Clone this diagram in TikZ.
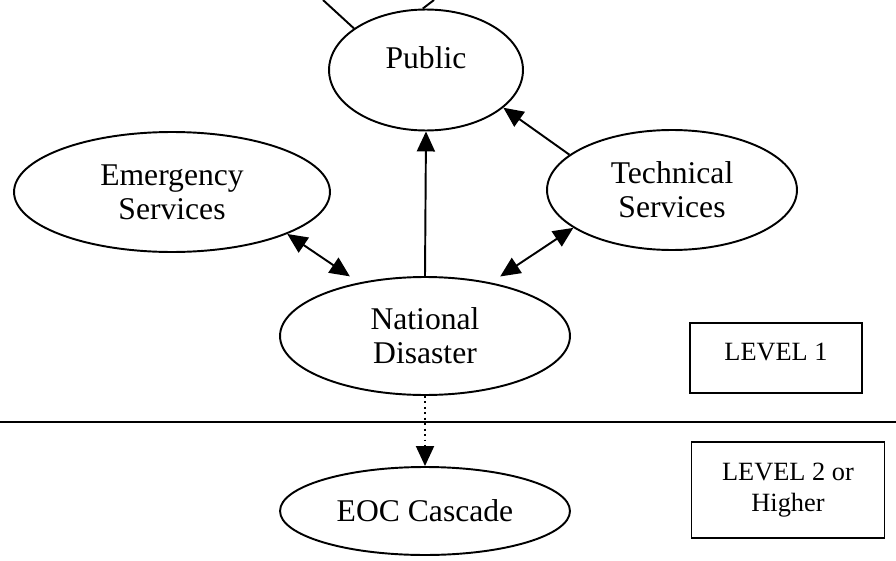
\documentclass[tikz,border=0pt]{standalone}
\usepackage{fontspec}
\setmainfont{Liberation Serif}
\usetikzlibrary{shapes.geometric}
\usetikzlibrary{arrows.meta}
\tikzset{
	bubble/.style={draw, ellipse, line width=1.1pt, inner sep=0pt, align=center,
		font=\fontsize{18}{19.5}\selectfont},
	levelbox/.style={draw, line width=1.1pt, inner sep=0pt, align=center,
		font=\fontsize{15}{18}\selectfont},
	link/.style={line width=1.1pt, -{Triangle[length=0.4cm, width=0.36cm]}},
	twolink/.style={line width=1.1pt, {Triangle[length=0.4cm, width=0.36cm]}-{Triangle[length=0.4cm, width=0.36cm]}}
}

\begin{document}
\begin{tikzpicture}[x=0.02cm, y=-0.02cm]
	% 896 x 561, one unit = one pixel
	\useasboundingbox (0, 0) rectangle (896, 561);
	% level 1
	\node[bubble, minimum width=3.88cm, minimum height=2.42cm] (pub) at (426, 70) {\raisebox{0.5cm}{Public}};
	\node[bubble, minimum width=6.32cm, minimum height=2.4cm] (es) at (172, 192) {Emergency\\Services};
	\node[bubble, minimum width=5cm, minimum height=2.4cm] (ts) at (672, 190) {Technical\\Services};
	\node[bubble, minimum width=5.8cm, minimum height=2.36cm] (nd) at (425, 336) {National\\Disaster};
	\node[levelbox, minimum width=3.44cm, minimum height=1.4cm] (lv1) at (776, 358) {\raisebox{0.24cm}{LEVEL 1}};
	% level 2
	\node[bubble, minimum width=5.8cm, minimum height=1.76cm] (eoc) at (425, 511) {EOC Cascade};
	\node[levelbox, minimum width=3.86cm, minimum height=1.92cm] (lv2) at (788, 490) {LEVEL 2 or\\Higher};
	% cut-off lines above the public
	\coordinate (up1) at (323, 0);
	\coordinate (up2) at (434, 0);
	\draw[line width=1.1pt] (pub.150) -- (up1);
	\draw[line width=1.1pt] (pub.93) -- (up2);
	% connectors
	\draw[twolink, shorten >=0.22cm] (es.-20) -- (nd.141);
	\draw[twolink, shorten >=0.22cm] (ts.201) -- (nd.39);
	\draw[link] (nd.north) -- (pub.south);
	\draw[link] (ts.161) -- (pub.-26);
	\draw[link, dotted] (nd.south) -- (eoc.north);
	% level divider
	\draw[line width=1.4pt] (0, 422) -- (896, 422);
\end{tikzpicture}
\end{document}
